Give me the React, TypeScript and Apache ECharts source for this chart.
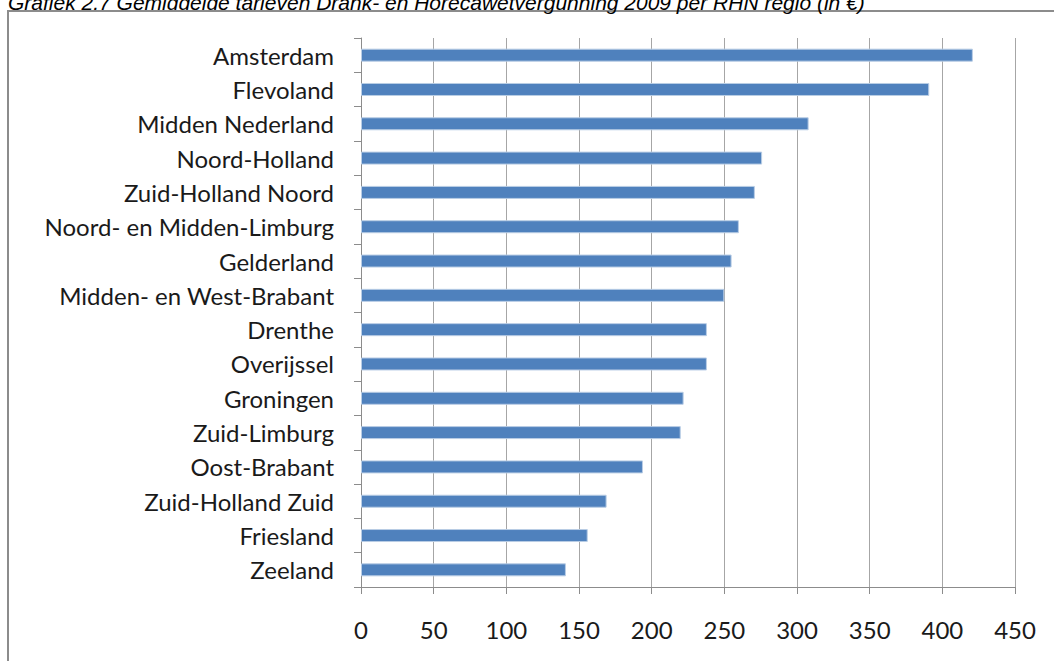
import React, { useEffect, useRef } from "react";
import * as echarts from "echarts";

const titleText =
  "Grafiek 2.7 Gemiddelde tarieven Drank- en Horecawetvergunning 2009 per RHN regio (in €)";

const regions = [
  "Amsterdam",
  "Flevoland",
  "Midden Nederland",
  "Noord-Holland",
  "Zuid-Holland Noord",
  "Noord- en Midden-Limburg",
  "Gelderland",
  "Midden- en West-Brabant",
  "Drenthe",
  "Overijssel",
  "Groningen",
  "Zuid-Limburg",
  "Oost-Brabant",
  "Zuid-Holland Zuid",
  "Friesland",
  "Zeeland",
];

const tarieven = [
  421, 391, 308, 276, 271, 260, 255, 250, 238, 238, 222, 220, 194, 169, 156, 141,
];

const xMin = 0;
const xMax = 450;
const xStep = 50;

export default function App() {
  const ref = useRef<HTMLDivElement>(null);

  useEffect(() => {
    if (!ref.current) return;
    const chart = echarts.init(ref.current, undefined, { renderer: "svg" });
    const labelFont = "Lato, 'Open Sans', sans-serif";
    chart.setOption({
      animation: false,
      backgroundColor: "#ffffff",
      grid: { left: 361, top: 38, right: 39, bottom: 74, containLabel: false },
      xAxis: {
        type: "value",
        min: xMin,
        max: xMax,
        interval: xStep,
        axisLine: { show: true, lineStyle: { color: "#8c8c8c", width: 1 } },
        axisTick: { show: true, length: 7, inside: false, lineStyle: { color: "#8c8c8c" } },
        splitLine: { show: true, lineStyle: { color: "#a6a6a6", width: 1 } },
        axisLabel: {
          margin: 30,
          fontSize: 24,
          color: "#1a1a1a",
          fontFamily: labelFont,
          showMinLabel: true,
          showMaxLabel: true,
        },
      },
      yAxis: {
        type: "category",
        data: regions,
        inverse: true,
        axisLine: { show: true, lineStyle: { color: "#8c8c8c", width: 1 } },
        axisTick: { show: true, length: 7, lineStyle: { color: "#8c8c8c" } },
        splitLine: { show: false },
        axisLabel: {
          margin: 27,
          fontSize: 24,
          color: "#1a1a1a",
          fontFamily: labelFont,
          interval: 0,
        },
      },
      series: [
        {
          type: "bar",
          data: tarieven,
          barWidth: 13,
          itemStyle: {
            color: "#4F81BD",
            borderColor: "#B9CDE5",
            borderWidth: 1,
          },
        },
      ],
      graphic: [
        {
          type: "rect",
          shape: { x: 8, y: 11, width: 1060, height: 670 },
          style: { fill: "none", stroke: "#8c8c8c", lineWidth: 2 },
          silent: true,
        },
        {
          type: "text",
          left: 8,
          top: -8,
          style: {
            text: titleText,
            font: "italic 21px 'Liberation Sans', Arial, sans-serif",
            fill: "#000000",
          },
          silent: true,
        },
      ],
    });
    return () => chart.dispose();
  }, []);

  return (
    <div
      ref={ref}
      style={{
        position: "fixed",
        left: 0,
        top: 0,
        width: 1054,
        height: 661,
        background: "#fff",
      }}
    />
  );
}
